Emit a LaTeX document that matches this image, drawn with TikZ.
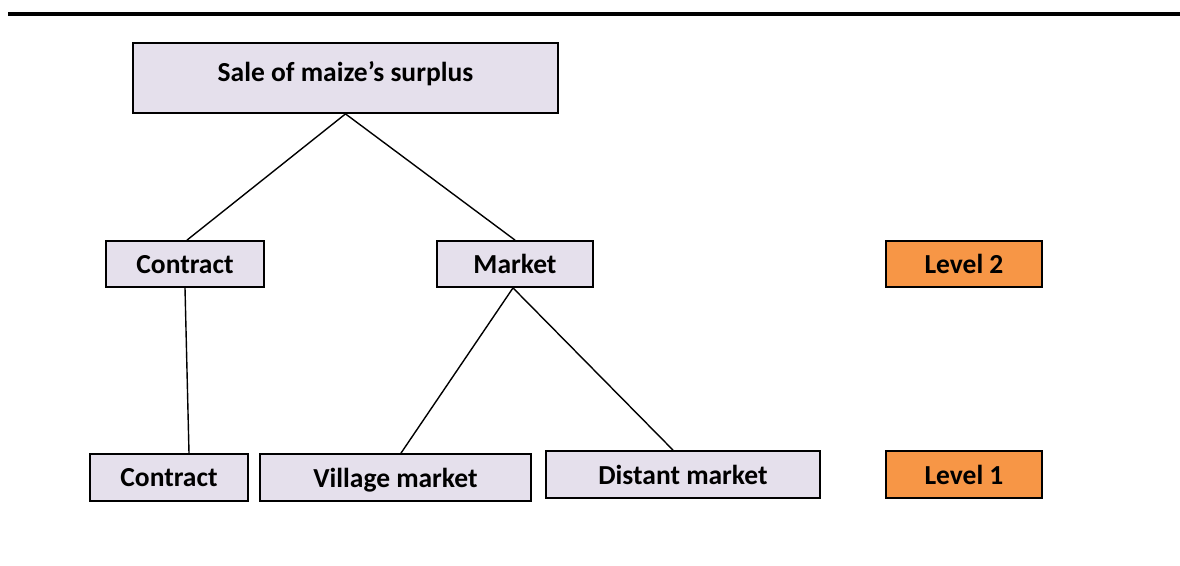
\documentclass[tikz,border=0pt]{standalone}
\usepackage{fontspec}
\setmainfont{Carlito}
\definecolor{boxfill}{HTML}{E5E0EC}
\definecolor{levelfill}{HTML}{F79646}
\begin{document}
\begin{tikzpicture}[x=1pt,y=-1pt,
    box/.style={draw=black, line width=1.8pt, fill=boxfill, inner sep=0pt,
      text depth=0pt, font=\bfseries\fontsize{27.5}{32}\selectfont},
    levelbox/.style={box, fill=levelfill},
    link/.style={line width=1.4pt}]
    \useasboundingbox (0,0) rectangle (1180,565);

    % Top rule
    \coordinate (RuleL) at (8,14);
    \coordinate (RuleR) at (1180,14);
    \draw[line width=4pt] (RuleL) -- (RuleR);

    % Define the boxes
    \node[box, minimum width=425pt, minimum height=70pt, text depth=13pt]
      (sale) at (345.5,78) {Sale of maize’s surplus};
    \node[box, minimum width=158pt, minimum height=46pt] (contractA) at (185,264) {Contract};
    \node[box, minimum width=156pt, minimum height=46pt] (market) at (515,264) {Market};
    \node[box, minimum width=158pt, minimum height=47pt] (contractB) at (169,477.5) {Contract};
    \node[box, minimum width=271pt, minimum height=47pt] (village) at (395.5,477.5) {Village market};
    \node[box, minimum width=274pt, minimum height=47pt] (distant) at (683,474.5) {Distant market};

    % Level labels
    \node[levelbox, minimum width=156pt, minimum height=46pt] (level2) at (964,264) {Level 2};
    \node[levelbox, minimum width=156pt, minimum height=47pt] (level1) at (964,474.5) {Level 1};

    % Draw the links
    \draw[link] (sale.south) -- ([xshift=2pt]contractA.north);
    \draw[link] (sale.south) -- (market.north);
    \draw[link] (contractA.south) -- ([xshift=20pt]contractB.north);
    \draw[link] ([xshift=-2pt]market.south) -- ([xshift=5.5pt]village.north);
    \draw[link] ([xshift=-2pt]market.south) -- ([xshift=-10pt]distant.north);

\end{tikzpicture}
\end{document}
